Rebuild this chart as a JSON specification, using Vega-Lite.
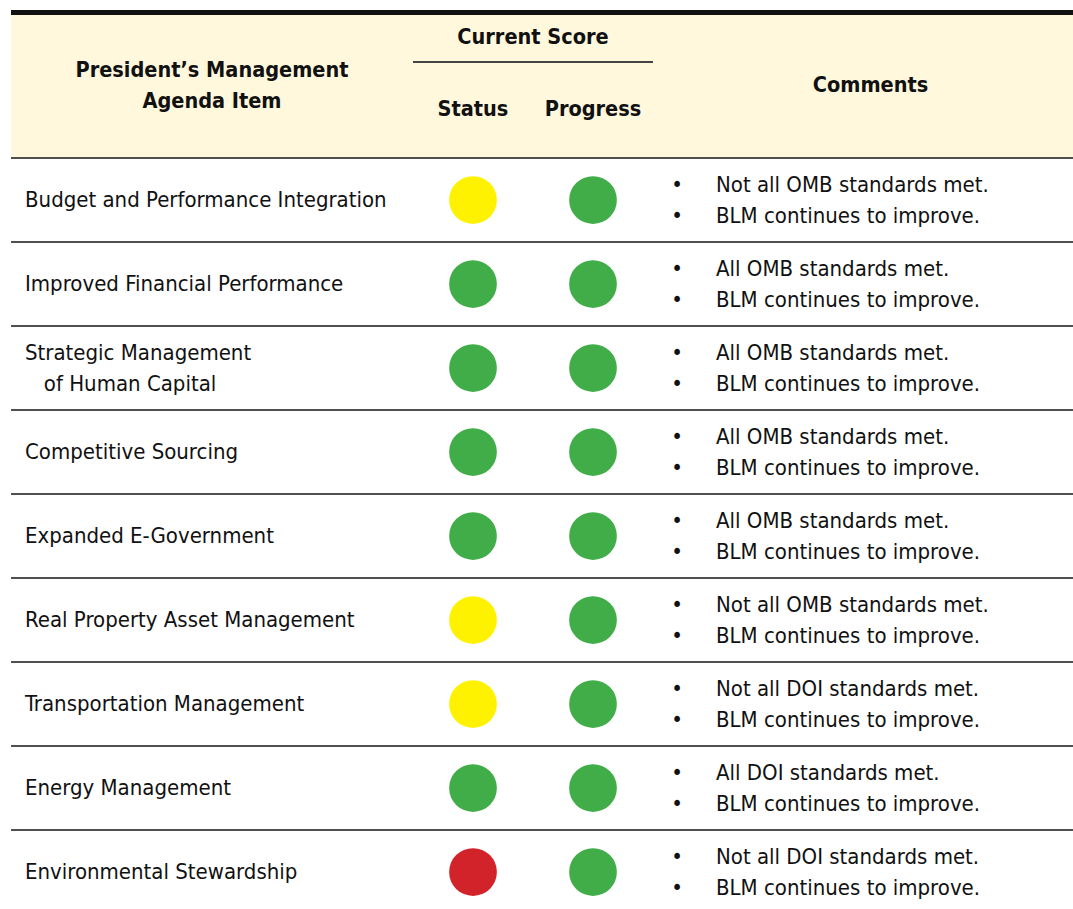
{
  "$schema": "https://vega.github.io/schema/vega-lite/v6.json",
  "padding": {"left": 10, "top": 10, "right": 0, "bottom": 0},
  "background": "white",
  "spacing": 0,
  "config": {
    "view": {"stroke": null},
    "concat": {"spacing": 0},
    "text": {"font": "DejaVu Sans Condensed", "fontSize": 22, "color": "#111111"}
  },
  "datasets": {
    "rows": [
      {"item": "Budget and Performance Integration", "Status": "yellow", "Progress": "green", "comment": "Not all OMB standards met.\nBLM continues to improve."},
      {"item": "Improved Financial Performance", "Status": "green", "Progress": "green", "comment": "All OMB standards met.\nBLM continues to improve."},
      {"item": "Strategic Management\n\u200d\u00a0\u00a0\u00a0of Human Capital", "Status": "green", "Progress": "green", "comment": "All OMB standards met.\nBLM continues to improve."},
      {"item": "Competitive Sourcing", "Status": "green", "Progress": "green", "comment": "All OMB standards met.\nBLM continues to improve."},
      {"item": "Expanded E-Government", "Status": "green", "Progress": "green", "comment": "All OMB standards met.\nBLM continues to improve."},
      {"item": "Real Property Asset Management", "Status": "yellow", "Progress": "green", "comment": "Not all OMB standards met.\nBLM continues to improve."},
      {"item": "Transportation Management", "Status": "yellow", "Progress": "green", "comment": "Not all DOI standards met.\nBLM continues to improve."},
      {"item": "Energy Management", "Status": "green", "Progress": "green", "comment": "All DOI standards met.\nBLM continues to improve."},
      {"item": "Environmental Stewardship", "Status": "red", "Progress": "green", "comment": "Not all DOI standards met.\nBLM continues to improve."}
    ],
    "one": [{"k": 1}],
    "measures": [{"measure": "Status"}, {"measure": "Progress"}]
  },
  "vconcat": [
    {
      "width": 1063,
      "height": 5,
      "data": {"name": "one"},
      "mark": {"type": "rect", "color": "#111111"},
      "encoding": {}
    },
    {
      "spacing": 0,
      "hconcat": [
        {
          "width": 402,
          "height": 142,
          "data": {"name": "one"},
          "layer": [
            {"mark": {"type": "rect", "color": "#fff8dc"}, "encoding": {}},
            {
              "mark": {"type": "text", "fontWeight": "bold", "fontSize": 21.5, "lineHeight": 31, "lineBreak": "\n", "dy": -15.5},
              "encoding": {"text": {"value": "President\u2019s Management\nAgenda Item"}}
            }
          ]
        },
        {
          "spacing": 0,
          "vconcat": [
            {
              "width": 240,
              "height": 46,
              "data": {"name": "one"},
              "layer": [
                {"mark": {"type": "rect", "color": "#fff8dc"}, "encoding": {}},
                {
                  "mark": {"type": "text", "fontWeight": "bold", "fontSize": 21.5},
                  "encoding": {"text": {"value": "Current Score"}}
                }
              ]
            },
            {
              "width": 240,
              "height": 2,
              "data": {"name": "one"},
              "mark": {"type": "rect", "color": "#444444"},
              "encoding": {}
            },
            {
              "width": 240,
              "height": 94,
              "data": {"name": "measures"},
              "layer": [
                {"mark": {"type": "rect", "color": "#fff8dc"}, "encoding": {}},
                {
                  "mark": {"type": "text", "fontWeight": "bold", "fontSize": 21.5},
                  "encoding": {
                    "x": {"field": "measure", "type": "nominal", "sort": ["Status", "Progress"], "scale": {"paddingInner": 0, "paddingOuter": 0}, "axis": null},
                    "text": {"field": "measure", "type": "nominal"}
                  }
                }
              ]
            }
          ]
        },
        {
          "width": 421,
          "height": 142,
          "data": {"name": "one"},
          "layer": [
            {"mark": {"type": "rect", "color": "#fff8dc"}, "encoding": {}},
            {
              "mark": {"type": "text", "fontWeight": "bold", "fontSize": 21.5, "dx": 7},
              "encoding": {"text": {"value": "Comments"}}
            }
          ]
        }
      ]
    },
    {
      "spacing": 0,
      "bounds": "flush",
      "hconcat": [
        {
          "width": 402,
          "height": 752,
          "data": {"name": "rows"},
          "layer": [
            {
              "mark": {"type": "rule", "color": "#505050", "strokeWidth": 2},
              "encoding": {
                "y": {"field": "item", "type": "nominal", "sort": null, "bandPosition": 0, "scale": {"range": [0, 756], "paddingInner": 0, "paddingOuter": 0}, "axis": null}
              }
            },
            {
              "transform": [{"filter": "indexof(datum.item, '\\n') < 0"}],
              "mark": {"type": "text", "align": "left", "dx": 14},
              "encoding": {
                "y": {"field": "item", "type": "nominal", "sort": null, "axis": null},
                "x": {"datum": 0, "type": "quantitative", "scale": {"domain": [0, 1]}, "axis": null},
                "text": {"field": "item", "type": "nominal"}
              }
            },
            {
              "transform": [{"filter": "indexof(datum.item, '\\n') >= 0"}],
              "mark": {"type": "text", "align": "left", "dx": 14, "dy": -15.5, "lineHeight": 31, "lineBreak": "\n"},
              "encoding": {
                "y": {"field": "item", "type": "nominal", "sort": null, "axis": null},
                "x": {"datum": 0, "type": "quantitative", "scale": {"domain": [0, 1]}, "axis": null},
                "text": {"field": "item", "type": "nominal"}
              }
            }
          ]
        },
        {
          "width": 240,
          "height": 752,
          "data": {"name": "rows"},
          "layer": [
            {
              "mark": {"type": "rule", "color": "#505050", "strokeWidth": 2},
              "encoding": {
                "y": {"field": "item", "type": "nominal", "sort": null, "bandPosition": 0, "scale": {"range": [0, 756], "paddingInner": 0, "paddingOuter": 0}, "axis": null}
              }
            },
            {
              "transform": [{"fold": ["Status", "Progress"], "as": ["measure", "score"]}],
              "mark": {"type": "point", "shape": "circle", "filled": true, "opacity": 1, "size": 2280},
              "encoding": {
                "y": {"field": "item", "type": "nominal", "sort": null, "axis": null},
                "x": {"field": "measure", "type": "nominal", "sort": ["Status", "Progress"], "scale": {"paddingInner": 0, "paddingOuter": 0}, "axis": null},
                "color": {"field": "score", "type": "nominal", "scale": {"domain": ["green", "yellow", "red"], "range": ["#41ad49", "#fff200", "#d2232a"]}, "legend": null}
              }
            }
          ]
        },
        {
          "width": 421,
          "height": 752,
          "data": {"name": "rows"},
          "layer": [
            {
              "mark": {"type": "rule", "color": "#505050", "strokeWidth": 2},
              "encoding": {
                "y": {"field": "item", "type": "nominal", "sort": null, "bandPosition": 0, "scale": {"range": [0, 756], "paddingInner": 0, "paddingOuter": 0}, "axis": null}
              }
            },
            {
              "mark": {"type": "text", "align": "center", "dx": 24, "dy": -15.5, "lineHeight": 31},
              "encoding": {
                "y": {"field": "item", "type": "nominal", "sort": null, "axis": null},
                "x": {"datum": 0, "type": "quantitative", "scale": {"domain": [0, 1]}, "axis": null},
                "text": {"value": ["\u2022", "\u2022"]}
              }
            },
            {
              "mark": {"type": "text", "align": "left", "dx": 63, "dy": -15.5, "lineHeight": 31, "lineBreak": "\n"},
              "encoding": {
                "y": {"field": "item", "type": "nominal", "sort": null, "axis": null},
                "x": {"datum": 0, "type": "quantitative", "scale": {"domain": [0, 1]}, "axis": null},
                "text": {"field": "comment", "type": "nominal"}
              }
            }
          ]
        }
      ]
    }
  ]
}
